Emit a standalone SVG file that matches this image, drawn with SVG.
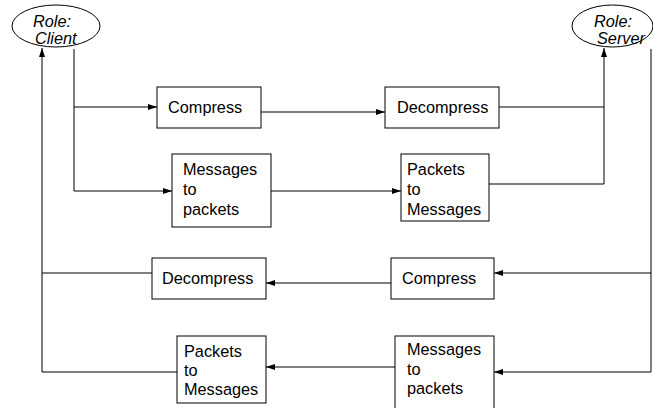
<svg xmlns="http://www.w3.org/2000/svg" width="653" height="408" viewBox="0 0 653 408">
<defs>
<marker id="ah" markerUnits="userSpaceOnUse" markerWidth="10" markerHeight="6" refX="9" refY="3" orient="auto">
<path d="M0,0 L9,3 L0,6 Z" fill="#000"/>
</marker>
<style>
.box{fill:#fff;stroke:#000;stroke-width:1}
.t{font-family:"Liberation Sans",Arial,sans-serif;font-size:16.3px;fill:#000}
.it{font-style:italic}
.c{fill:none;stroke:#000;stroke-width:1}
.a{marker-end:url(#ah)}
</style>
</defs>
<rect width="653" height="408" fill="#fff"/>
<g id="connectors">
<path class="c" d="M74,49 V191"/>
<path class="c a" d="M74,191 H172"/>
<path class="c a" d="M74,107 H157"/>
<path class="c a" d="M261,112 H385"/>
<path class="c a" d="M271,191 H401"/>
<path class="c" d="M499,107 H604"/>
<path class="c a" d="M489,184 H604 V48"/>
<path class="c a" d="M651,49 V372 H494"/>
<path class="c a" d="M651,273 H494"/>
<path class="c a" d="M391,283 H266"/>
<path class="c a" d="M395,367 H266"/>
<path class="c" d="M152,273 H42"/>
<path class="c a" d="M177,372 H42 V48"/>
</g>
<g id="client">
<ellipse cx="56" cy="26" rx="44" ry="21" class="box"/>
<text class="t it" x="33" y="27">Role:</text>
<text class="t it" x="35" y="44">Client</text>
</g>
<g id="server">
<ellipse cx="612.5" cy="26" rx="40.5" ry="21" class="box"/>
<text class="t it" x="594" y="27">Role:</text>
<text class="t it" x="597" y="44">Server</text>
</g>
<g id="compress1">
<rect x="157" y="87" width="104" height="41" class="box"/>
<text class="t" x="168" y="113">Compress</text>
</g>
<g id="decompress1">
<rect x="385" y="87" width="114" height="41" class="box"/>
<text class="t" x="397" y="113">Decompress</text>
</g>
<g id="msg2pkt1">
<rect x="172" y="154" width="99" height="73" class="box"/>
<text class="t" x="183" y="175">Messages</text>
<text class="t" x="183" y="195">to</text>
<text class="t" x="183" y="215">packets</text>
</g>
<g id="pkt2msg1">
<rect x="401" y="154" width="88" height="67" class="box"/>
<text class="t" x="407" y="175">Packets</text>
<text class="t" x="407" y="195">to</text>
<text class="t" x="407" y="215">Messages</text>
</g>
<g id="decompress2">
<rect x="152" y="258" width="114" height="41" class="box"/>
<text class="t" x="162" y="284">Decompress</text>
</g>
<g id="compress2">
<rect x="391" y="258" width="103" height="41" class="box"/>
<text class="t" x="402" y="284">Compress</text>
</g>
<g id="pkt2msg2">
<rect x="177" y="336" width="89" height="67" class="box"/>
<text class="t" x="184" y="357">Packets</text>
<text class="t" x="184" y="376">to</text>
<text class="t" x="184" y="395">Messages</text>
</g>
<g id="msg2pkt2">
<rect x="395" y="336" width="99" height="80" class="box"/>
<text class="t" x="407" y="355">Messages</text>
<text class="t" x="407" y="375">to</text>
<text class="t" x="407" y="394">packets</text>
</g>
</svg>
